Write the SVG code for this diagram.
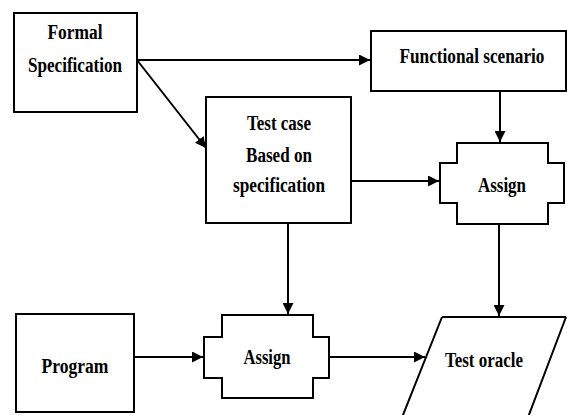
<svg xmlns="http://www.w3.org/2000/svg" width="567" height="415" viewBox="0 0 567 415">
<style>
.box{fill:#fff;stroke:#000;stroke-width:2}
.t{font-family:"Liberation Serif","Times New Roman",serif;font-weight:bold;font-size:20px;text-anchor:middle;fill:#000}
.c{fill:none;stroke:#000;stroke-width:2}
</style>
<defs>
<marker id="ah" viewBox="0 0 10 10" refX="10" refY="5" markerWidth="5.5" markerHeight="5.5" orient="auto" markerUnits="strokeWidth">
<path d="M0,0 L10,5 L0,10 z" fill="#000"/>
</marker>
</defs>
<rect width="567" height="415" fill="#fff"/>
<g id="formal">
<rect class="box" x="14" y="13" width="123" height="99"/>
<text class="t" x="75" y="39" textLength="55" lengthAdjust="spacingAndGlyphs">Formal</text>
<text class="t" x="75" y="72" textLength="94" lengthAdjust="spacingAndGlyphs">Specification</text>
</g>
<g id="functional">
<rect class="box" x="371" y="31" width="195" height="60"/>
<text class="t" x="472" y="63" textLength="145" lengthAdjust="spacingAndGlyphs">Functional scenario</text>
</g>
<g id="testcase">
<rect class="box" x="206" y="97" width="145" height="126"/>
<text class="t" x="279" y="130" textLength="64" lengthAdjust="spacingAndGlyphs">Test case</text>
<text class="t" x="279" y="162" textLength="66" lengthAdjust="spacingAndGlyphs">Based on</text>
<text class="t" x="279" y="192" textLength="92" lengthAdjust="spacingAndGlyphs">specification</text>
</g>
<g id="assign1">
<path class="box" d="M457,143 H548 V163 H564 V203 H548 V224 H457 V203 H440 V163 H457 Z"/>
<text class="t" x="502" y="192" textLength="48" lengthAdjust="spacingAndGlyphs">Assign</text>
</g>
<g id="program">
<rect class="box" x="16" y="314" width="118" height="98"/>
<text class="t" x="75" y="373" textLength="67" lengthAdjust="spacingAndGlyphs">Program</text>
</g>
<g id="assign2">
<path class="box" d="M222,315 H313 V337 H329 V378 H313 V398 H222 V378 H204 V337 H222 Z"/>
<text class="t" x="267" y="364" textLength="47" lengthAdjust="spacingAndGlyphs">Assign</text>
</g>
<g id="oracle">
<path class="box" d="M442,317 H566 M566,317 L527,420 M442,317 L401,420"/>
<text class="t" x="484" y="367" textLength="78" lengthAdjust="spacingAndGlyphs">Test oracle</text>
</g>
<g id="connectors">
<line class="c" x1="137" y1="60" x2="370" y2="60" marker-end="url(#ah)"/>
<line class="c" x1="137" y1="60" x2="206" y2="148" marker-end="url(#ah)"/>
<line class="c" x1="351" y1="181" x2="439" y2="181" marker-end="url(#ah)"/>
<line class="c" x1="500" y1="91" x2="500" y2="142" marker-end="url(#ah)"/>
<line class="c" x1="499" y1="224" x2="499" y2="316" marker-end="url(#ah)"/>
<line class="c" x1="288" y1="223" x2="288" y2="314" marker-end="url(#ah)"/>
<line class="c" x1="134" y1="357" x2="203" y2="357" marker-end="url(#ah)"/>
<line class="c" x1="329" y1="357" x2="425" y2="357" marker-end="url(#ah)"/>
</g>
</svg>
